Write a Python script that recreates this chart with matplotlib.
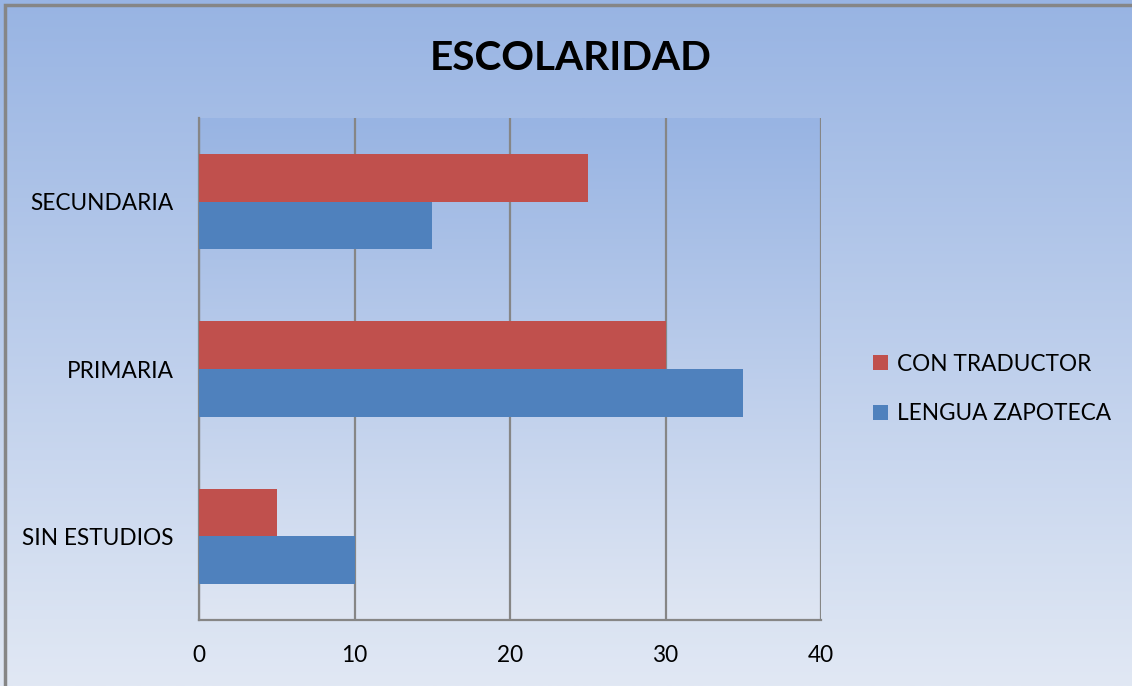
import numpy as np
import matplotlib
matplotlib.use('Agg')
import matplotlib.pyplot as plt
from matplotlib.patches import Rectangle

plt.rcParams['font.family'] = ['Lato', 'DejaVu Sans']

# datos de escolaridad
categorias = ['SIN ESTUDIOS', 'PRIMARIA', 'SECUNDARIA']
con_traductor = [5, 30, 25]
lengua_zapoteca = [10, 35, 15]
series_nombres = ['CON TRADUCTOR', 'LENGUA ZAPOTECA']
x_ticks = [0, 10, 20, 30, 40]

rojo = '#c0504d'
azul = '#4f81bd'

fig = plt.figure(figsize=(11.32, 6.86), dpi=100)

# fondo degradado de la figura
bg = fig.add_axes([0, 0, 1, 1], zorder=-10)
grad = np.linspace(0, 1, 256).reshape(-1, 1)
top_c = np.array([0x98, 0xb4, 0xe3]) / 255
bot_c = np.array([0xe1, 0xe8, 0xf4]) / 255
img = top_c[None, None, :] * (1 - grad[:, :, None]) + bot_c[None, None, :] * grad[:, :, None]
bg.imshow(img, aspect='auto', extent=[0, 1, 0, 1])
bg.set_axis_off()
fig.patches.append(Rectangle((5 / 1132, -0.01), 1.1, 1 - 5 / 686 + 0.01, transform=fig.transFigure,
                             fill=False, edgecolor='#868686', linewidth=2.5, zorder=5))

ax = fig.add_axes([199 / 1132, 66 / 686, 622 / 1132, 502 / 686])
ax.set_facecolor('none')

# degradado del area de trazado
pa_top = np.array([0x98, 0xb4, 0xe3]) / 255
pa_bot = np.array([0xdf, 0xe6, 0xf3]) / 255
img2 = pa_top[None, None, :] * (1 - grad[:, :, None]) + pa_bot[None, None, :] * grad[:, :, None]
ax.imshow(img2, aspect='auto', extent=[0, 40, -0.5, 2.5], zorder=0)

y = np.arange(len(categorias))
h = 0.284
ax.barh(y + h / 2, con_traductor, height=h, color=rojo, label=series_nombres[0], zorder=3)
ax.barh(y - h / 2, lengua_zapoteca, height=h, color=azul, label=series_nombres[1], zorder=3)

ax.set_xlim(0, 40)
ax.set_ylim(-0.5, 2.5)
ax.set_xticks(x_ticks)
ax.set_yticks(y)
ax.set_yticklabels(categorias)
ax.xaxis.grid(True, color='#868686', linewidth=1.6, zorder=1)
ax.set_axisbelow(True)
for s in ['top', 'right']:
    ax.spines[s].set_visible(False)
for s in ['left', 'bottom']:
    ax.spines[s].set_color('#868686')
    ax.spines[s].set_linewidth(1.6)
ax.tick_params(axis='both', length=0, labelsize=16.3, colors='black')
ax.tick_params(axis='x', pad=18)
ax.tick_params(axis='y', pad=18)

fig.text(571 / 1132, 1 - 58 / 686, 'ESCOLARIDAD', ha='center', va='center',
         fontsize=29.2, fontweight='bold')

handles, labels = ax.get_legend_handles_labels()
leg = fig.legend(handles, labels, loc='center left', bbox_to_anchor=(853 / 1132, 1 - 389 / 686),
                 frameon=False, fontsize=16.3, handlelength=0.65, handleheight=0.65,
                 handletextpad=0.4, labelspacing=1.25)

fig.savefig('out.png', dpi=100)
